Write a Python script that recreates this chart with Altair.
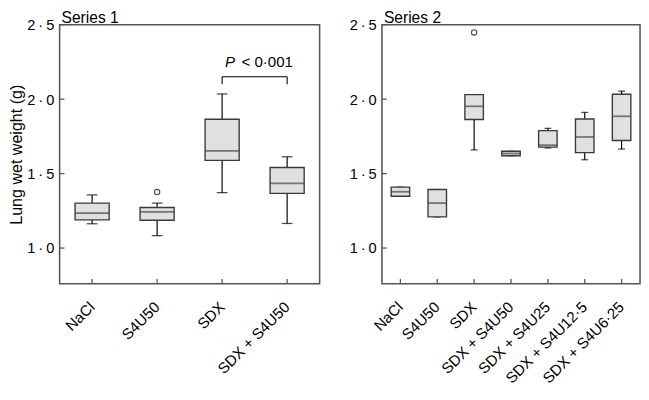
import altair as alt
import pandas as pd

FONT = "Liberation Sans"
FS = 15

# ---- data ----
cats1 = ["NaCl", "S4U50", "SDX", "SDX + S4U50"]
lo1 = [1.163, 1.083, 1.372, 1.165]
q1_1 = [1.189, 1.187, 1.589, 1.367]
med1 = [1.235, 1.243, 1.652, 1.435]
q3_1 = [1.302, 1.272, 1.865, 1.541]
hi1 = [1.357, 1.302, 2.035, 1.613]
out1_cat = ["S4U50"]
out1_val = [1.376]

cats2 = ["NaCl", "S4U50", "SDX", "SDX + S4U50", "SDX + S4U25",
         "SDX + S4U12·5", "SDX + S4U6·25"]
lo2 = [1.348, 1.209, 1.659, 1.620, 1.672, 1.593, 1.665]
q1_2 = [1.348, 1.209, 1.863, 1.620, 1.678, 1.641, 1.722]
med2 = [1.378, 1.302, 1.952, 1.635, 1.691, 1.746, 1.885]
q3_2 = [1.409, 1.393, 2.030, 1.650, 1.789, 1.867, 2.033]
hi2 = [1.409, 1.393, 2.030, 1.650, 1.804, 1.911, 2.054]
out2_cat = ["SDX"]
out2_val = [2.448]

yticks = [1.0, 1.5, 2.0, 2.5]
ydomain = [0.76, 2.5]

# significance bracket (series 1)
br_from, br_to = "SDX", "SDX + S4U50"
br_top, br_bottom = 2.15, 2.10
p_y = 2.215

H = 266


def panel(cats, lo, q1, med, q3, hi, ocat, oval, width, box_w, cap_w,
          title, show_ytitle, extra=None):
    df = pd.DataFrame({"cat": cats, "lo": lo, "q1": q1, "med": med,
                       "q3": q3, "hi": hi})
    odf = pd.DataFrame({"cat": ocat, "val": oval})
    tdf = pd.DataFrame({"v": yticks})
    xdf = pd.DataFrame({"cat": cats})
    ttl = pd.DataFrame({"t": [title]})

    xs = alt.X("cat:N", sort=cats, title=None,
               scale=alt.Scale(paddingInner=0, paddingOuter=0),
               axis=alt.Axis(labelAngle=-45, labelAlign="right",
                             labelBaseline="middle", labelPadding=21,
                             domain=False, ticks=False,
                             labelFontSize=15.5, labelFont=FONT,
                             labelColor="black"))
    ysc = alt.Scale(domain=ydomain, nice=False, zero=False)
    yax = alt.Axis(values=yticks, grid=False, domain=False, ticks=False,
                   labelExpr="replace(format(datum.value, '.1f'), '.', '\u2009·\u2009')",
                   labelFontSize=FS, labelFont=FONT, labelColor="black",
                   labelPadding=6,
                   title="Lung wet weight (g)" if show_ytitle else None,
                   titleFontSize=16.5, titleFont=FONT, titleFontWeight="normal",
                   titleColor="black", titlePadding=2)

    base = alt.Chart(df)
    whisk_lo = base.mark_rule(color="black", strokeWidth=1.2).encode(
        x=xs, y=alt.Y("lo:Q", scale=ysc, axis=yax), y2="q1:Q")
    whisk_hi = base.mark_rule(color="black", strokeWidth=1.2).encode(
        x=alt.X("cat:N", sort=cats), y="q3:Q", y2="hi:Q")
    cap_lo = base.mark_tick(color="black", size=cap_w, thickness=1.3).encode(
        x=alt.X("cat:N", sort=cats), y="lo:Q")
    cap_hi = base.mark_tick(color="black", size=cap_w, thickness=1.3).encode(
        x=alt.X("cat:N", sort=cats), y="hi:Q")
    box = base.mark_bar(size=box_w, fill="#e0e0e0", stroke="#3a3a3a",
                        strokeWidth=1.4).encode(
        x=alt.X("cat:N", sort=cats), y="q1:Q", y2="q3:Q")
    median = base.mark_tick(color="#444444", size=box_w, thickness=1.8).encode(
        x=alt.X("cat:N", sort=cats), y="med:Q")
    outl = alt.Chart(odf).mark_point(shape="circle", filled=False,
                                     color="black", size=30,
                                     strokeWidth=1.1).encode(
        x=alt.X("cat:N", sort=cats), y="val:Q")
    ytk = alt.Chart(tdf).mark_rule(color="#555555", strokeWidth=1.3).encode(
        y="v:Q", x=alt.value(0), x2=alt.value(5))
    xtk = alt.Chart(xdf).mark_rule(color="#555555", strokeWidth=1.3).encode(
        x=alt.X("cat:N", sort=cats), y=alt.value(H), y2=alt.value(H - 5))
    ttext = alt.Chart(ttl).mark_text(align="left", baseline="alphabetic",
                                     fontSize=16, font=FONT,
                                     color="black").encode(
        x=alt.value(2), y=alt.value(-2), text="t:N")

    layers = [whisk_lo, whisk_hi, cap_lo, cap_hi, box, median, outl, ytk,
              xtk, ttext]
    if extra:
        layers += extra
    return alt.layer(*layers).properties(width=width, height=H)


# bracket + P text for series 1
bdf = pd.DataFrame({"a": [br_from], "b": [br_to], "top": [br_top],
                    "bot": [br_bottom]})
bx = alt.Chart(bdf)
bracket = [
    bx.mark_rule(color="black", strokeWidth=1.1).encode(
        x=alt.X("a:N", sort=cats1), x2="b:N", y="top:Q"),
    bx.mark_rule(color="black", strokeWidth=1.1).encode(
        x=alt.X("a:N", sort=cats1), y="bot:Q", y2="top:Q"),
    bx.mark_rule(color="black", strokeWidth=1.1).encode(
        x=alt.X("b:N", sort=cats1), y="bot:Q", y2="top:Q"),
]
pdf = pd.DataFrame({"a": [br_from], "b": [br_to], "y": [p_y],
                    "t1": ["P"], "t2": ["< 0·001"]})
pc = alt.Chart(pdf)
bracket += [
    pc.mark_text(align="left", baseline="alphabetic", dx=3, fontSize=15.5,
                 font=FONT, fontStyle="italic", color="black").encode(
        x=alt.X("a:N", sort=cats1), y="y:Q", text="t1:N"),
    pc.mark_text(align="right", baseline="alphabetic", dx=6, fontSize=15.5,
                 font=FONT, color="black").encode(
        x=alt.X("b:N", sort=cats1), y="y:Q", text="t2:N"),
]

left = panel(cats1, lo1, q1_1, med1, q3_1, hi1, out1_cat, out1_val,
             267, 35, 11, "Series 1", True, bracket)
right = panel(cats2, lo2, q1_2, med2, q3_2, hi2, out2_cat, out2_val,
              265, 19, 7, "Series 2", False)

chart = alt.hconcat(left, right, spacing=28).properties(
    padding={"left": 0, "top": -4, "right": 0, "bottom": 0}
).configure_view(stroke="#555555", strokeWidth=1.6).configure_concat(
    spacing=28)

chart.save("out.html", embed_options={"renderer": "svg", "actions": False})
